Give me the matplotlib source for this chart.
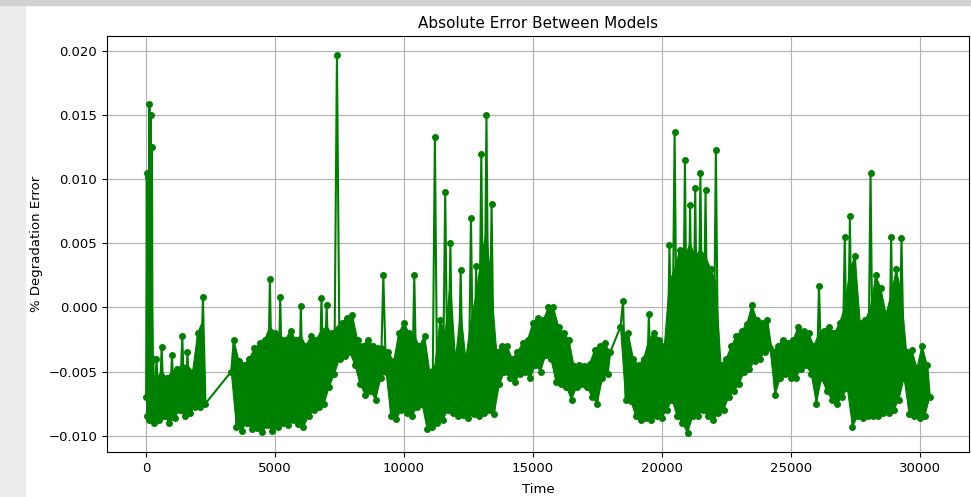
import matplotlib
matplotlib.use('Agg')
import matplotlib.pyplot as plt
import numpy as np
from matplotlib.patches import Rectangle

# readings from the picture. each segment: start time, spacing, the low edge
# of the dense band (at start, start+step, ...) and the high edge (half a step later)
head_start, head_step = 0, 50
head_lo = [-0.0070, -0.0085, -0.0088, -0.0086, -0.0082, -0.0086]
head_hi = [0.0100, 0.0035, 0.0040, 0.0035, 0.0030, -0.0040]

seg1_start, seg_step = 300, 200
seg1_lo = [-0.0090, -0.0088, -0.0085, -0.0090, -0.0086, -0.0080, -0.0085, -0.0082, -0.0078, -0.0078,
           -0.0075]
seg1_hi = [-0.0055, -0.0050, -0.0055, -0.0050, -0.0048, -0.0045, -0.0045, -0.0050, -0.0020, -0.0010]

seg2_start = 3300
seg2_lo = [-0.0050, -0.0093, -0.0096, -0.0090, -0.0095, -0.0094, -0.0097, -0.0092, -0.0096, -0.0093,
           -0.0090, -0.0092, -0.0088, -0.0091, -0.0093, -0.0085, -0.0080, -0.0078, -0.0075, -0.0062,
           -0.0052, -0.0040, -0.0038, -0.0035, -0.0045, -0.0060, -0.0068, -0.0065, -0.0072, -0.0055,
           -0.0050, -0.0085, -0.0087, -0.0080, -0.0082, -0.0085, -0.0078, -0.0075, -0.0095, -0.0093,
           -0.0090, -0.0088, -0.0080, -0.0082, -0.0085, -0.0084, -0.0086, -0.0083, -0.0085, -0.0082,
           -0.0080, -0.0083, -0.0060, -0.0050, -0.0055, -0.0058, -0.0052, -0.0050, -0.0055, -0.0045,
           -0.0050, -0.0037, -0.0040, -0.0058, -0.0060, -0.0062, -0.0072, -0.0062, -0.0060, -0.0062,
           -0.0070, -0.0075, -0.0055, -0.0052]
seg2_hi = [-0.0025, -0.0042, -0.0045, -0.0040, -0.0032, -0.0028, -0.0025, -0.0015, -0.0020, -0.0022,
           -0.0025, -0.0018, -0.0025, -0.0022, -0.0030, -0.0022, -0.0025, -0.0018, -0.0015, -0.0020,
           -0.0015, -0.0012, -0.0008, -0.0006, -0.0025, -0.0030, -0.0025, -0.0030, -0.0032, -0.0030,
           -0.0035, -0.0042, -0.0020, -0.0012, -0.0020, -0.0022, -0.0030, -0.0022, -0.0050, -0.0045,
           -0.0010, -0.0020, 0.0020, -0.0040, -0.0002, -0.0040, -0.0010, 0.0010, 0.0040, 0.0060,
           0.0015, -0.0035, -0.0030, -0.0030, -0.0040, -0.0035, -0.0028, -0.0025, -0.0012, -0.0008,
           -0.0010, 0.0000, 0.0000, -0.0015, -0.0020, -0.0025, -0.0046, -0.0045, -0.0046, -0.0044,
           -0.0033, -0.0030, -0.0028, -0.0035]

seg3_start = 18400
seg3_lo = [-0.0015,
           -0.0072, -0.0073, -0.0085, -0.0088, -0.0086, -0.0088, -0.0085, -0.0086, -0.0080, -0.0072,
           -0.0085, -0.0090, -0.0098, -0.0085, -0.0085, -0.0080, -0.0085, -0.0088, -0.0082, -0.0080,
           -0.0070, -0.0065, -0.0060, -0.0050, -0.0048, -0.0042, -0.0040, -0.0035, -0.0032, -0.0068,
           -0.0055, -0.0052, -0.0055, -0.0055, -0.0048, -0.0045, -0.0052, -0.0075, -0.0055, -0.0065,
           -0.0072, -0.0075, -0.0070, -0.0063, -0.0093, -0.0085, -0.0086, -0.0085, -0.0085, -0.0085,
           -0.0082, -0.0082, -0.0080, -0.0072, -0.0055, -0.0083, -0.0085, -0.0086, -0.0085, -0.0070]
seg3_hi = [-0.0020, -0.0020, -0.0040, -0.0045, -0.0040, -0.0025, -0.0020, -0.0025, -0.0030, 0.0020,
           0.0030, 0.0045, 0.0040, 0.0050, 0.0040, 0.0045, 0.0040, 0.0030, 0.0020, -0.0045,
           -0.0040, -0.0030, -0.0022, -0.0018, -0.0013, 0.0002, -0.0010, -0.0012, -0.0010, -0.0035,
           -0.0030, -0.0025, -0.0028, -0.0025, -0.0015, -0.0018, -0.0020, -0.0030, -0.0020, -0.0018,
           -0.0015, -0.0020, -0.0012, 0.0000, 0.0030, 0.0040, -0.0012, -0.0010, 0.0000, 0.0025,
           0.0015, -0.0005, 0.0010, 0.0030, 0.0010, -0.0035, -0.0033, -0.0047, -0.0030, -0.0045]

# isolated peaks that stick out of the band
spike_t = [25, 75, 125, 175, 225,
           400, 600, 1000, 1400, 1600, 2200,
           4800, 5200, 6000, 6800, 7000, 7400, 9200, 10400, 11200, 11600, 11800,
           12200, 12600, 12800, 13000, 13200, 13400,
           18500, 19500, 20300, 20500, 20900, 21100, 21300, 21500, 21700, 22100,
           26100, 27100, 27300, 28100, 28900, 29300]
spike_v = [0.0105, 0.0102, 0.0159, 0.0150, 0.0125,
           -0.0040, -0.0031, -0.0037, -0.0022, -0.0035, 0.0008,
           0.0022, 0.0008, 0.0001, 0.0007, 0.0002, 0.0197, 0.0025, 0.0025, 0.0133, 0.0090, 0.0050,
           0.0029, 0.0070, 0.0032, 0.0120, 0.0150, 0.0081,
           0.0005, -0.0005, 0.0049, 0.0137, 0.0115, 0.0080, 0.0093, 0.0105, 0.0092, 0.0123,
           0.0017, 0.0055, 0.0071, 0.0105, 0.0055, 0.0054]

segments = [(head_start, head_step, head_lo, head_hi),
            (seg1_start, seg_step, seg1_lo, seg1_hi),
            (seg2_start, seg_step, seg2_lo, seg2_hi),
            (seg3_start, seg_step, seg3_lo, seg3_hi)]

fig = plt.figure(figsize=(9.71, 4.97), dpi=100)
# screenshot border
fig.patches.append(Rectangle((0, 0), 25 / 971, 1, transform=fig.transFigure,
                             color='#ececec', zorder=0))
fig.patches.append(Rectangle((0, 1 - 5 / 497), 1, 5 / 497, transform=fig.transFigure,
                             color='#d2d2d2', zorder=0))

ax = fig.add_axes([107 / 971, 45 / 497, 862 / 971, 416 / 497])

line_t, line_v = [], []
for start, step, lo, hi in segments:
    lo = np.array(lo)
    hi = np.array(hi)
    t_lo = start + step * np.arange(len(lo))
    t_hi = start + step / 2 + step * np.arange(len(hi))
    # solid band between the two edges
    ax.fill(np.r_[t_hi, t_lo[::-1]], np.r_[hi, lo[::-1]], color='green', lw=0.8, zorder=2)
    peaks = hi.copy()
    for st, sv in zip(spike_t, spike_v):
        peaks[t_hi == st] = sv
    for i in range(len(lo)):
        line_t.append(t_lo[i])
        line_v.append(lo[i])
        if i < len(hi):
            line_t.append(t_hi[i])
            line_v.append(peaks[i])

ax.plot(line_t, line_v, color='green', marker='.', markersize=8, linewidth=1.5, zorder=3)
ax.grid(True)
ax.set_title('Absolute Error Between Models', fontsize=11)
ax.set_xlabel('Time', fontsize=9.5, labelpad=6)
ax.set_ylabel('% Degradation Error', fontsize=9.5)
ax.tick_params(labelsize=9.5)

fig.savefig('out.png', dpi=100)
